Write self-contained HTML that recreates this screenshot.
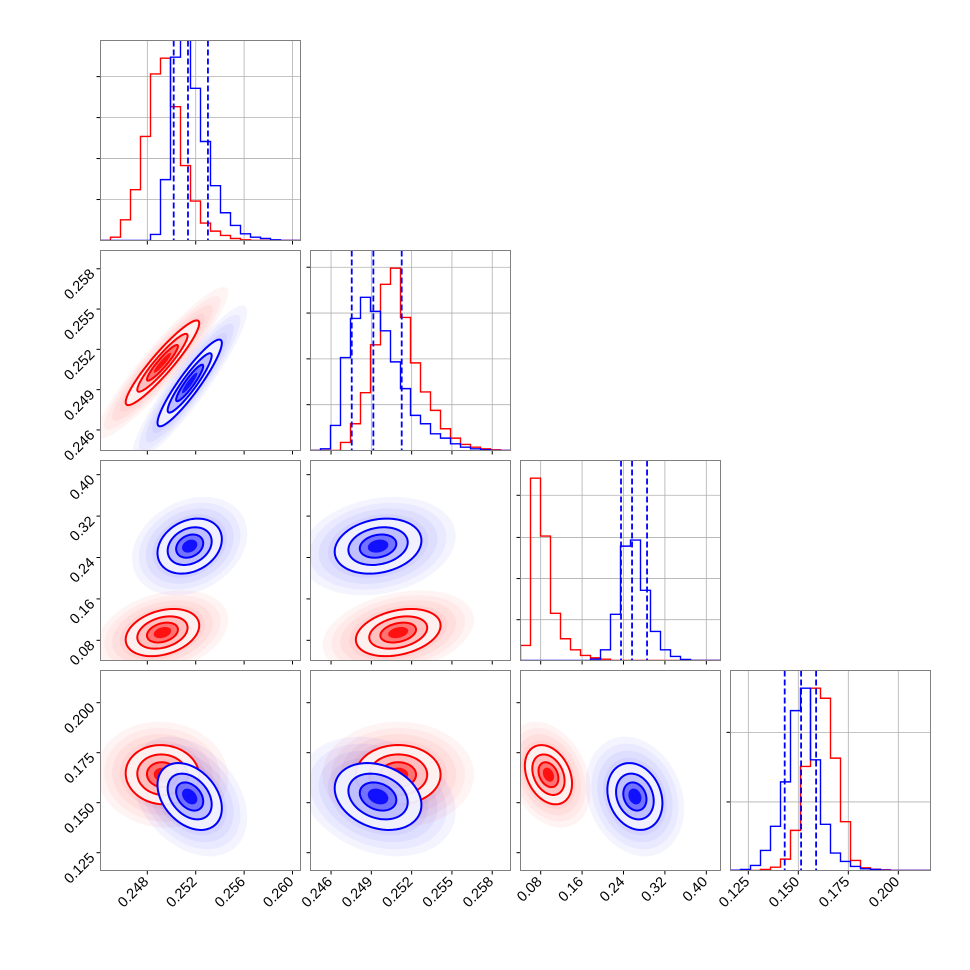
<!DOCTYPE html>
<html><head><meta charset="utf-8"><style>
html,body{margin:0;padding:0;background:#fff;}
svg{display:block;font-family:"Liberation Sans",sans-serif;}
</style></head><body>
<svg id="chart" width="970" height="970" viewBox="0 0 970 970" xmlns="http://www.w3.org/2000/svg"></svg>
<script>
// ---- data ----
const paramDomains = [[0.24413,0.26066],[0.24447,0.25936],[0.041,0.4274],[0.1161,0.2161]];
const paramTicks = [[0.248,0.252,0.256,0.260],[0.246,0.249,0.252,0.255,0.258],[0.08,0.16,0.24,0.32,0.40],[0.125,0.150,0.175,0.200]];
const paramTickLabels = [["0.248","0.252","0.256","0.260"],["0.246","0.249","0.252","0.255","0.258"],["0.08","0.16","0.24","0.32","0.40"],["0.125","0.150","0.175","0.200"]];
const histRed0 = [0,10,62,152,311,498,545,400,224,118,52,28,15,6,2,0,0,0,0,0];
const histBlue0 = [0,0,0,0,0,18,182,548,650,455,296,164,83,45,20,10,6,2,0,0];
const histRed1 = [0,0,0,24,80,173,316,497,545,398,262,175,120,65,37,18,10,5,2,0];
const histBlue1 = [0,5,75,278,395,458,416,358,265,185,105,80,50,37,20,10,5,2,0,0];
const histRed2 = [45,545,372,141,65,32,15,8,4,0,0,0,0,0,0,0,0,0,0,0];
const histBlue2 = [0,0,0,0,0,0,0,4,32,138,342,360,210,87,32,12,3,0,0,0];
const histRed3 = [0,0,0,3,10,34,120,311,545,515,336,146,30,8,4,2,0,0,0,0];
const histBlue3 = [1,3,15,60,132,265,478,545,331,138,52,27,12,5,3,1,0,0,0,0];
const histYTicks = [[122.5,245,367.5,490],[137,274,411,548],[122,245,368,494],[205,413]];
const quantilesBlue = [[0.25018,0.25136,0.25301],[0.24754,0.24915,0.25126],[0.2352,0.2565,0.2855],[0.1432,0.1514,0.1589]];
const meanRed = [0.24925,0.2510,0.095,0.1640];
const sdRed = [0.0016,0.00166,0.024,0.0078];
const meanBlue = [0.2515,0.2495,0.262,0.1531];
const sdBlue = [0.0014,0.0017,0.028,0.0088];
const corrRed = [[1,0.93,0.3,-0.05],[0.93,1,0.3,0],[0.3,0.3,1,-0.3],[-0.05,0,-0.3,1]];
const corrBlue = [[1,0.92,0.25,-0.35],[0.92,1,0.2,-0.25],[0.25,0.2,1,-0.2],[-0.35,-0.25,-0.2,1]];
const HIST_YMAX = 598;

const NS="http://www.w3.org/2000/svg";
const svg=document.getElementById('chart');
const P0X=100.5,P0Y=40.5,PS=200,GAP=210;
function mk(tag,attrs,parent){const e=document.createElementNS(NS,tag);for(const k in attrs)e.setAttribute(k,attrs[k]);(parent||svg).appendChild(e);return e;}
function xScale(p,v){const d=paramDomains[p];return (v-d[0])/(d[1]-d[0])*PS;}
function yScale(p,v){const d=paramDomains[p];return PS-(v-d[0])/(d[1]-d[0])*PS;}
function hScale(v){return PS-v/HIST_YMAX*PS;}

const defs=mk('defs',{});
const histsRed=[histRed0,histRed1,histRed2,histRed3];
const histsBlue=[histBlue0,histBlue1,histBlue2,histBlue3];

function stepPath(h){let d='M0,'+PS;const w=PS/h.length;h.forEach((v,i)=>{const y=hScale(v);d+=' L'+(i*w)+','+y+' L'+((i+1)*w)+','+y;});d+=' L'+PS+','+PS;return d;}

function ellipsePath(px,py,mean,sd,corr,r){
  const mx=xScale(px,mean[px]),my=yScale(py,mean[py]);
  const sx=xScale(px,paramDomains[px][0]+sd[px]);
  const sy=PS-yScale(py,paramDomains[py][0]+sd[py]);
  const rho=corr[px][py];const q=Math.sqrt(1-rho*rho);
  let d='';for(let k=0;k<=72;k++){const t=k/72*2*Math.PI;
    const x=mx+r*sx*Math.cos(t);const y=my-r*sy*(rho*Math.cos(t)+q*Math.sin(t));
    d+=(k?' L':'M')+x.toFixed(2)+','+y.toFixed(2);}
  return d+'Z';
}

function drawTicksX(g,p,labels){
  paramTicks[p].forEach((v,i)=>{const x=xScale(p,v);
    const t=mk('line',{x1:x,y1:PS,x2:x,y2:PS+4,stroke:'#000','stroke-width':1},g);
    
    
    if(labels){const tx=mk('text',{x:0,y:0,'font-size':14.5,'text-anchor':'end',transform:'translate('+(x+2)+','+(PS+12)+') rotate(-45)'},g);
      tx.textContent=paramTickLabels[p][i];
      
      }
  });
}
function drawTicksY(g,p,labels){
  paramTicks[p].forEach((v,i)=>{const y=yScale(p,v);
    const t=mk('line',{x1:-4,y1:y,x2:0,y2:y,stroke:'#000','stroke-width':1},g);
    
    
    if(labels){const tx=mk('text',{x:0,y:0,'font-size':14.5,'text-anchor':'end',transform:'translate(-5,'+(y+6)+') rotate(-45)'},g);
      tx.textContent=paramTickLabels[p][i];
      
      }
  });
}

const series=[{c:'#ff0000',h:histsRed,m:meanRed,s:sdRed,r:corrRed,n:'red'},{c:'#0000ff',h:histsBlue,m:meanBlue,s:sdBlue,r:corrBlue,n:'blue'}];

for(let row=0;row<4;row++){for(let col=0;col<=row;col++){
  const g=mk('g',{transform:'translate('+(P0X+col*GAP)+','+(P0Y+row*GAP)+')'});
  
  
  const cid='clip'+row+col;
  const cp=mk('clipPath',{id:cid},defs);mk('rect',{x:0,y:0,width:PS,height:PS},cp);
  const inner=mk('g',{'clip-path':'url(#'+cid+')'},g);
  if(row===col){
    const p=col;
    paramTicks[p].forEach(v=>{const x=xScale(p,v);const gl=mk('line',{x1:x,y1:0,x2:x,y2:PS,stroke:'#b0b0b0','stroke-width':0.8},inner);});
    histYTicks[p].forEach(v=>{const y=hScale(v);const gl=mk('line',{x1:0,y1:y,x2:PS,y2:y,stroke:'#b0b0b0','stroke-width':0.8},inner);});
    series.forEach(s=>{const pa=mk('path',{d:stepPath(s.h[p]),fill:'none',stroke:s.c,'stroke-width':1.4},inner);
      
      });
    quantilesBlue[p].forEach(v=>{const x=xScale(p,v);const q=mk('line',{x1:x,y1:0,x2:x,y2:PS,stroke:'#0000ff','stroke-width':1.8,'stroke-dasharray':'6,3'},inner);
      
      });
    histYTicks[p].forEach(v=>{const y=hScale(v);const t=mk('line',{x1:-4,y1:y,x2:0,y2:y,stroke:'#000','stroke-width':1},g);});
  } else {
    const px=col,py=row;
    series.forEach(s=>{
      [3.4,3.0,2.6,2.2].forEach(r=>{const e=mk('path',{d:ellipsePath(px,py,s.m,s.s,s.r,r),fill:s.c,'fill-opacity':0.045,stroke:'none'},inner);
        
        });
    });
    series.forEach(s=>{
      const o=mk('path',{d:ellipsePath(px,py,s.m,s.s,s.r,1.9),fill:'#ffffff','fill-opacity':0.95,stroke:'none'},inner);
      
      
      [[1.9,0.05],[1.3,0.2],[0.8,0.4],[0.45,0.85]].forEach(a=>{const e=mk('path',{d:ellipsePath(px,py,s.m,s.s,s.r,a[0]),fill:s.c,'fill-opacity':a[1],stroke:'none'},inner);
        
        });
      [1.9,1.3,0.8].forEach(r=>{const e=mk('path',{d:ellipsePath(px,py,s.m,s.s,s.r,r),fill:'none',stroke:s.c,'stroke-width':2},inner);
        
        });
    });
    drawTicksY(g,py,col===0);
  }
  drawTicksX(g,col,row===3);
  const fr=mk('rect',{x:0,y:0,width:PS,height:PS,fill:'none',stroke:'#808080','stroke-width':1},g);
  
  
}}
</script>
</body></html>
